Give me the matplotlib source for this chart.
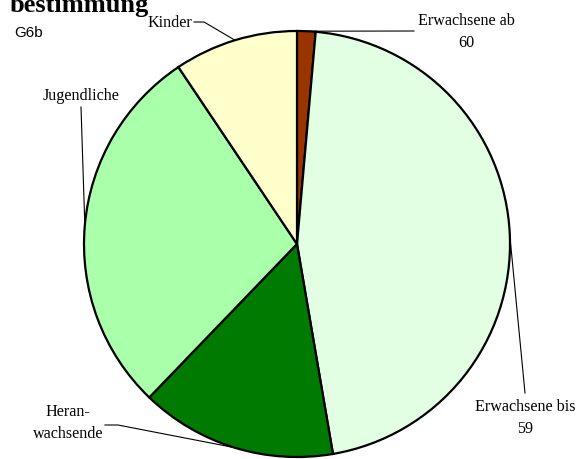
import numpy as np
import matplotlib
matplotlib.use("Agg")
import matplotlib.pyplot as plt

# Age groups, clockwise from 12 o'clock
GROUPS = ["Erwachsene ab\n60", "Erwachsene bis\n59", "Heran-\nwachsende",
          "Jugendliche", "Kinder"]
SHARES = [1.4, 45.9, 14.9, 28.4, 9.4]
COLORS = ["#993300", "#E3FFE3", "#007A00", "#AAFFAA", "#FFFFCC"]

# label anchor (pixel coords, y down) and leader path start/elbow
LABEL_POS = [(466, 32), (525, 418), (68, 423), (81, 96), (192, 23)]
LABEL_HA = ["center", "center", "center", "center", "right"]
LEADER_PTS = [
    [(414, 32)],
    [(525, 394)],
    [(105, 426), (118, 426)],
    [(81, 108)],
    [(194, 23), (204, 23)],
]

W, H = 588, 460
CENTER = (297, H - 245)
RADIUS = 213

fig = plt.figure(figsize=(W / 100, H / 100), dpi=100)
ax = fig.add_axes([0, 0, 1, 1])

wedges, _ = ax.pie(
    SHARES, colors=COLORS, startangle=90, counterclock=False,
    center=CENTER, radius=RADIUS,
    wedgeprops=dict(edgecolor="black", linewidth=1.6),
)
ax.set_xlim(0, W)
ax.set_ylim(0, H)
ax.set_aspect("equal")
ax.axis("off")

for w, label, (lx, ly), ha, pts in zip(wedges, GROUPS, LABEL_POS, LABEL_HA, LEADER_PTS):
    mid = np.deg2rad((w.theta1 + w.theta2) / 2)
    ex = CENTER[0] + RADIUS * np.cos(mid)
    ey = CENTER[1] + RADIUS * np.sin(mid)
    xs = [p[0] for p in pts] + [ex]
    ys = [H - p[1] for p in pts] + [ey]
    ax.plot(xs, ys, color="black", linewidth=0.8)
    ax.text(lx, H - ly, label, ha=ha, va="center", fontsize=11.6,
            family="Liberation Serif", linespacing=1.5)

# title is clipped at the top edge, as in the original
fig.text(10 / W, 1 - 12 / H, "bestimmung", fontsize=19, fontweight="bold",
         family="Liberation Serif", ha="left", va="baseline")
fig.text(14 / W, 1 - 33 / H, "G6b", fontsize=11, family="Liberation Sans",
         ha="left", va="center")

fig.savefig("out.png", dpi=100)
